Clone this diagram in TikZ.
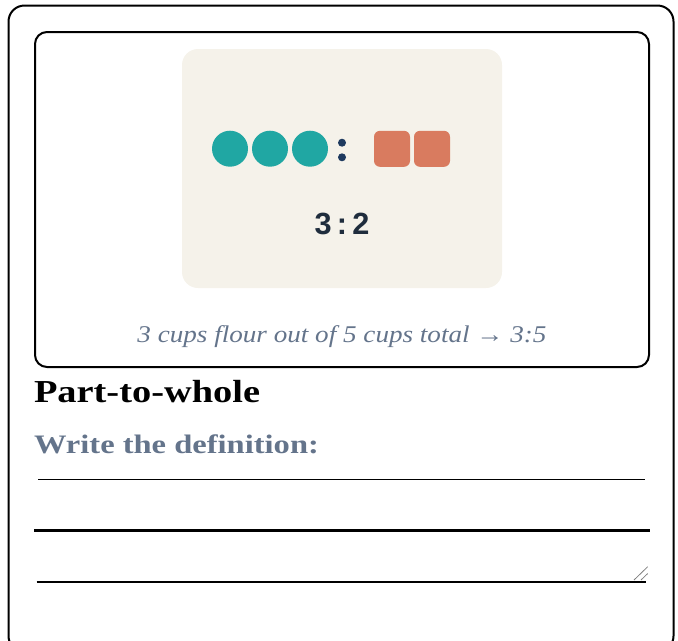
\documentclass[tikz,border=0pt]{standalone}
\usepackage{fontspec}
\setmainfont{Liberation Serif}
\newfontfamily\headfont[FakeStretch=1.2]{Liberation Serif}
\newfontfamily\subfont[FakeStretch=1.22]{Liberation Serif}
\newfontfamily\capfont[FakeStretch=1.13]{Liberation Serif}
\newfontfamily\numfont{Liberation Sans}
\definecolor{tealc}{HTML}{20A7A3}
\definecolor{orangec}{HTML}{D97B5F}
\definecolor{navyc}{HTML}{1E3A5F}
\definecolor{slatec}{HTML}{1F2D3D}
\definecolor{grayc}{HTML}{64748B}
\definecolor{beigec}{HTML}{F5F2EA}
\tikzset{
  dotc/.style={circle, fill=tealc, draw=none, minimum size=27pt, inner sep=0pt},
  cube/.style={rectangle, fill=orangec, draw=none, minimum size=27pt, inner sep=0pt, rounded corners=4.5pt},
  coldot/.style={circle, fill=navyc, draw=none, minimum size=6pt, inner sep=0pt},
  txt/.style={inner sep=0pt, outer sep=0pt},
  frame/.style={draw=black, line width=1.5pt},
}
\begin{document}
\begin{tikzpicture}[x=0.75pt,y=-0.75pt]
\useasboundingbox (0,0) rectangle (678,640);
% outer card
\draw[frame, rounded corners=12pt] (8.5,5.5) rectangle (673.5,652);
% inner box
\draw[frame, rounded corners=9pt] (35,32) rectangle (649,367);
% beige panel
\fill[beigec, rounded corners=12pt] (182,49) rectangle (502,288);
% circles
\node[dotc] (c1) at (230,148.7) {};
\node[dotc] (c2) at (270,148.7) {};
\node[dotc] (c3) at (310,148.7) {};
% colon
\node[coldot] (d1) at (342,142.7) {};
\node[coldot] (d2) at (342,157.3) {};
% squares
\node[cube] (s1) at (392,148.8) {};
\node[cube] (s2) at (432,148.8) {};
% ratio text
\node[txt, anchor=base, text=slatec] (ratio) at (342,234.5) {\numfont\bfseries\fontsize{23}{27}\selectfont 3\hspace{4pt}:\hspace{4pt}2};
% caption
\node[txt, anchor=base, text=grayc] (cap) at (342,342) {\capfont\itshape\fontsize{18}{21}\selectfont 3 cups flour out of 5 cups total → 3:5};
% heading
\node[txt, anchor=base west] (head) at (34,402) {\headfont\bfseries\fontsize{24}{28}\selectfont Part-to-whole};
\node[txt, anchor=base west, text=grayc] (sub) at (34,453.5) {\subfont\bfseries\fontsize{20}{24}\selectfont Write the definition:};
% writing lines
\coordinate (l1a) at (38.3,479.3); \coordinate (l1b) at (645,479.3);
\coordinate (l2a) at (34,530.3); \coordinate (l2b) at (650,530.3);
\coordinate (l3a) at (36.7,581.7); \coordinate (l3b) at (646,581.7);
\draw[line width=0.75pt] (l1a) -- (l1b);
\draw[line width=2.25pt] (l2a) -- (l2b);
\draw[line width=1.5pt] (l3a) -- (l3b);
% resize handle
\coordinate (h1a) at (634,580); \coordinate (h1b) at (647.7,566.7);
\coordinate (h2a) at (641,580); \coordinate (h2b) at (647.7,573.5);
\draw[gray, line width=0.6pt] (h1a) -- (h1b);
\draw[gray, line width=0.6pt] (h2a) -- (h2b);
\end{tikzpicture}
\end{document}
